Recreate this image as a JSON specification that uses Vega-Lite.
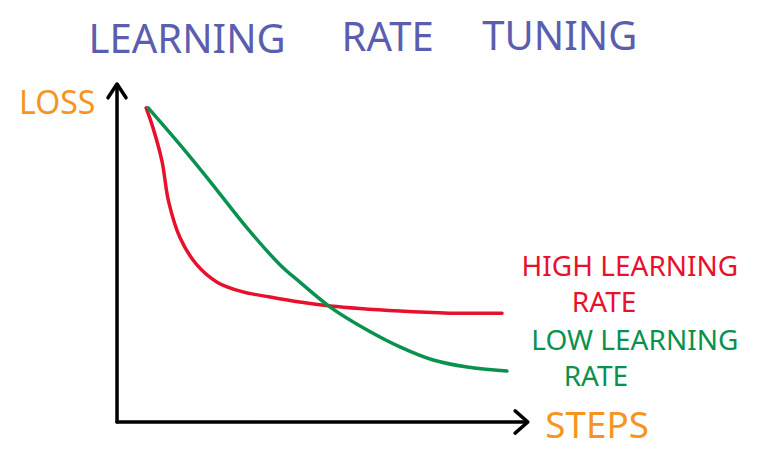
{
  "$schema": "https://vega.github.io/schema/vega-lite/v6.json",
  "width": 769,
  "height": 463,
  "autosize": {"type": "fit", "contains": "padding"},
  "padding": 0,
  "background": "white",
  "config": {"view": {"stroke": null}},
  "datasets": {
    "curves": [
      {"series": "HIGH", "i": 0, "steps": 7.1, "loss": 93.2},
      {"series": "HIGH", "i": 1, "steps": 8.8, "loss": 87.2},
      {"series": "HIGH", "i": 2, "steps": 11.0, "loss": 77.2},
      {"series": "HIGH", "i": 3, "steps": 12.6, "loss": 65.3},
      {"series": "HIGH", "i": 4, "steps": 15.4, "loss": 54.6},
      {"series": "HIGH", "i": 5, "steps": 19.5, "loss": 46.6},
      {"series": "HIGH", "i": 6, "steps": 24.4, "loss": 41.5},
      {"series": "HIGH", "i": 7, "steps": 30.7, "loss": 38.6},
      {"series": "HIGH", "i": 8, "steps": 37.3, "loss": 37.1},
      {"series": "HIGH", "i": 9, "steps": 44.6, "loss": 35.6},
      {"series": "HIGH", "i": 10, "steps": 52.0, "loss": 34.4},
      {"series": "HIGH", "i": 11, "steps": 69.0, "loss": 32.9},
      {"series": "HIGH", "i": 12, "steps": 81.2, "loss": 32.3},
      {"series": "HIGH", "i": 13, "steps": 93.9, "loss": 32.3},
      {"series": "LOW", "i": 0, "steps": 7.6, "loss": 93.2},
      {"series": "LOW", "i": 2, "steps": 15.4, "loss": 82.2},
      {"series": "LOW", "i": 3, "steps": 23.4, "loss": 70.3},
      {"series": "LOW", "i": 4, "steps": 31.7, "loss": 57.6},
      {"series": "LOW", "i": 5, "steps": 39.8, "loss": 46.6},
      {"series": "LOW", "i": 6, "steps": 44.6, "loss": 41.5},
      {"series": "LOW", "i": 7, "steps": 52.0, "loss": 34.1},
      {"series": "LOW", "i": 8, "steps": 61.0, "loss": 27.3},
      {"series": "LOW", "i": 9, "steps": 69.0, "loss": 22.3},
      {"series": "LOW", "i": 10, "steps": 77.1, "loss": 18.4},
      {"series": "LOW", "i": 11, "steps": 85.4, "loss": 16.3},
      {"series": "LOW", "i": 12, "steps": 95.1, "loss": 15.1}
    ],
    "axes": [
      {"part": "yaxis", "i": 0, "steps": 0, "loss": 0},
      {"part": "yaxis", "i": 1, "steps": 0, "loss": 100},
      {"part": "yhead", "i": 0, "steps": -2.2, "loss": 96.2},
      {"part": "yhead", "i": 1, "steps": 0, "loss": 100.3},
      {"part": "yhead", "i": 2, "steps": 2.2, "loss": 96.2},
      {"part": "xaxis", "i": 0, "steps": 0, "loss": 0},
      {"part": "xaxis", "i": 1, "steps": 100, "loss": 0},
      {"part": "xhead", "i": 0, "steps": 97.1, "loss": 3.3},
      {"part": "xhead", "i": 1, "steps": 100.2, "loss": 0},
      {"part": "xhead", "i": 2, "steps": 97.1, "loss": -3.3}
    ],
    "labels": [
      {"kind": "TITLE", "text": "LEARNING", "steps": 17.1, "loss": 113.0, "size": 40},
      {"kind": "TITLE", "text": "RATE", "steps": 66.0, "loss": 113.6, "size": 40},
      {"kind": "TITLE", "text": "TUNING", "steps": 108.0, "loss": 114.0, "size": 40},
      {"kind": "AXIS", "text": "LOSS", "steps": -14.6, "loss": 94.4, "size": 30},
      {"kind": "AXIS", "text": "STEPS", "steps": 117.1, "loss": -1.5, "size": 36},
      {"kind": "HIGH", "text": "HIGH LEARNING", "steps": 125.1, "loss": 45.7, "size": 25},
      {"kind": "HIGH", "text": "RATE", "steps": 118.8, "loss": 35.0, "size": 25},
      {"kind": "LOW", "text": "LOW LEARNING", "steps": 126.3, "loss": 23.7, "size": 25},
      {"kind": "LOW", "text": "RATE", "steps": 116.8, "loss": 13.1, "size": 25}
    ]
  },
  "encoding": {
    "x": {"field": "steps", "type": "quantitative", "scale": {"domain": [-28.54, 159.02], "nice": false, "zero": false}, "axis": null},
    "y": {"field": "loss", "type": "quantitative", "scale": {"domain": [-12.17, 125.22], "nice": false, "zero": false}, "axis": null}
  },
  "layer": [
    {
      "data": {"name": "axes"},
      "mark": {"type": "line", "color": "black", "strokeWidth": 3.5, "strokeCap": "round", "strokeJoin": "round"},
      "encoding": {
        "detail": {"field": "part", "type": "nominal"},
        "order": {"field": "i", "type": "quantitative"}
      }
    },
    {
      "data": {"name": "curves"},
      "mark": {"type": "line", "interpolate": "catmull-rom", "strokeWidth": 3.5, "strokeCap": "round"},
      "encoding": {
        "order": {"field": "i", "type": "quantitative"},
        "color": {"field": "series", "type": "nominal", "scale": {"domain": ["HIGH", "LOW"], "range": ["#e8112d", "#0a9150"]}, "legend": null}
      }
    },
    {
      "data": {"name": "labels"},
      "mark": {"type": "text", "font": "Noto Sans", "align": "center", "baseline": "middle"},
      "encoding": {
        "text": {"field": "text", "type": "nominal"},
        "size": {"field": "size", "type": "quantitative", "scale": {"type": "identity"}, "legend": null},
        "color": {"field": "kind", "type": "nominal", "scale": {"domain": ["TITLE", "AXIS", "HIGH", "LOW"], "range": ["#5b5eae", "#f7941d", "#e8112d", "#0a9150"]}, "legend": null}
      }
    }
  ],
  "resolve": {"scale": {"color": "independent"}}
}
